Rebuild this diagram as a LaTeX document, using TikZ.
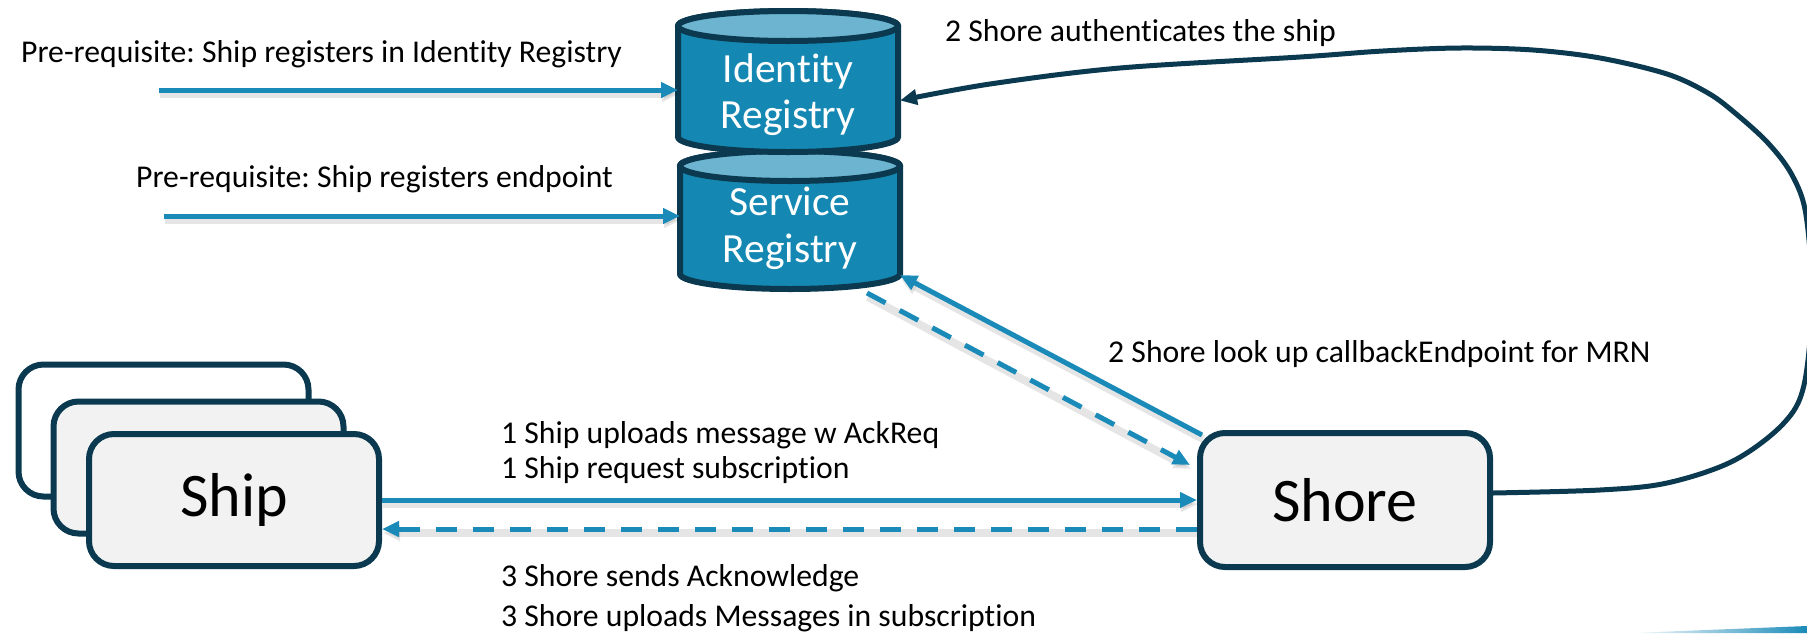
\documentclass[tikz,border=0pt]{standalone}
\usepackage{fontspec}
\setmainfont{Carlito}[Ligatures=NoCommon]
\usetikzlibrary{arrows.meta,calc}
\frenchspacing

\definecolor{conn}{HTML}{1A8AB8}
\definecolor{navy}{HTML}{0B3A50}
\definecolor{drumbody}{HTML}{1488B3}
\definecolor{drumlid}{HTML}{6CB4CF}
\definecolor{boxfill}{HTML}{F2F2F2}

\tikzset{
  tipped/.style={-{Triangle[length=17pt,width=15pt]}},
  link/.style={draw=conn, line width=5pt, tipped,
    preaction={draw=black, opacity=0.10, line width=8pt,
      transform canvas={shift={(1pt,-4pt)}}}},
  dlink/.style={link, dash pattern=on 21pt off 16pt},
  loopline/.style={draw=navy, line width=5pt, tipped},
  panel/.style={draw=navy, line width=6pt, fill=boxfill, rounded corners=25pt,
    minimum width=290pt, minimum height=132pt, inner sep=0pt,
    font=\fontsize{62}{70}\selectfont},
  drum/.style={draw=navy, line width=6pt, fill=drumbody},
  drumlidstyle/.style={draw=navy, line width=6pt, fill=drumlid},
  drumtext/.style={anchor=base, inner sep=0pt, text=white, font=\fontsize{41.5}{48}\selectfont},
  holder/.style={rectangle, inner sep=0pt, outer sep=0pt},
  lbl/.style={anchor=base west, inner sep=0pt, text=black, font=\fontsize{31.7}{36}\selectfont},
}

% cylinder: #1 centre x, #2 lid centre depth, #3 floor centre depth
\newcommand{\drawdrum}[3]{%
  \filldraw[drum] (#1-110,-#2) -- (#1-110,-#3)
    arc[start angle=180,end angle=360,x radius=110,y radius=15]
    -- (#1+110,-#2)
    arc[start angle=0,end angle=180,x radius=110,y radius=15] -- cycle;
  \filldraw[drumlidstyle] (#1,-#2) ellipse[x radius=110,y radius=15];
}

\begin{document}
\begin{tikzpicture}[x=1pt,y=1pt]
\useasboundingbox (0,0) rectangle (1807,-633);

% registries
\drawdrum{790}{166}{274}
\drawdrum{788}{26}{137}
\node[holder, minimum width=220pt, minimum height=141pt] (idr) at (788,-81.5) {};
\node[holder, minimum width=220pt, minimum height=138pt] (svc) at (790,-220) {};
\node[drumtext] (idrA) at (788,-82) {Identity};
\node[drumtext] (idrB) at (788,-128) {Registry};
\node[drumtext] (svcA) at (790,-215) {Service};
\node[drumtext] (svcB) at (790,-262) {Registry};

% ship stack and shore
\node[panel, fill=white] (ship3) at (163.5,-430.5) {};
\node[panel] (ship2) at (198.5,-467.5) {};
\node[panel] (ship) at (234,-500) {Ship};
\node[panel, minimum height=134pt] (shore) at (1345,-500) {Shore};

% connector ends
\coordinate (pre1) at (159,-90);
\coordinate (pre2) at (164,-216);
\coordinate (svcR) at ($(svc.south east)+(0,14)$);
\coordinate (svcL) at ($(svc.south)+(77,-4)$);
\coordinate (shoreNW) at ($(shore.north west)+(5,-5)$);
\coordinate (shoreW) at ($(shore.west)+(-7,35)$);
\coordinate (idrR) at ($(idr.east)+(2,-19)$);
\coordinate (shoreE) at ($(shore.east)+(0,7)$);

% connectors
\draw[link] (pre1) -- (pre1 -| idr.west);
\draw[link] (pre2) -- (pre2 -| svc.west);
\draw[link] (ship.east) -- (shore.west);
\draw[dlink] ($(shore.west)+(0,-29)$) -- ($(ship.east)+(0,-29)$);
\draw[link] (shoreNW) -- (svcR);
\draw[dlink] (svcL) -- (shoreW);
\draw[loopline] plot[smooth, tension=0.55] coordinates {(shoreE) (1600,-490) (1667,-483) (1733,-461) (1783,-424) (1804,-385) (1812,-300) (1806,-215) (1792,-175) (1768,-143) (1735,-113) (1708,-93) (1667,-74) (1600,-58) (1533,-50) (1460,-48) (1383,-51) (1300,-57) (1120,-68) (990,-84) (idrR)};

% labels
\node[lbl] (tPre1) at (21,-62) {Pre-requisite: Ship registers in Identity Registry};
\node[lbl] (tPre2) at (136,-187) {Pre-requisite: Ship registers endpoint};
\node[lbl] (tAuth) at (945,-41) {2 Shore authenticates the ship};
\node[lbl] (tLook) at (1108,-362) {2 Shore look up callbackEndpoint for MRN};
\node[lbl] (tUp1) at (501,-443) {1 Ship uploads message w AckReq};
\node[lbl] (tUp2) at (501,-478) {1 Ship request subscription};
\node[lbl] (tAck1) at (501,-586) {3 Shore sends Acknowledge};
\node[lbl] (tAck2) at (501,-626) {3 Shore uploads Messages in subscription};

% corner accent
\shade[left color=white, right color=conn] (1630,-633) -- (1807,-626) -- (1807,-633) -- cycle;
\end{tikzpicture}
\end{document}
